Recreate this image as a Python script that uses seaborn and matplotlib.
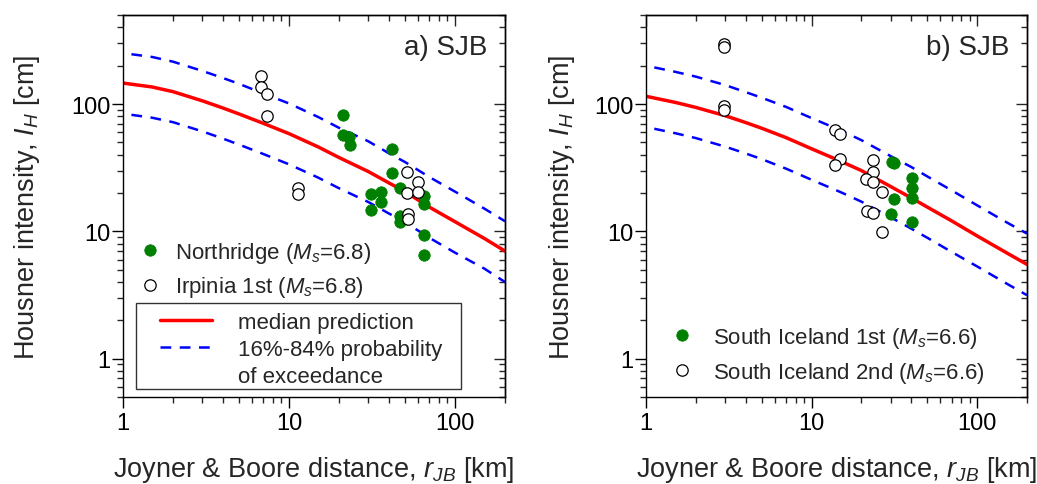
import numpy as np
import matplotlib
matplotlib.use('Agg')
import matplotlib.pyplot as plt
import seaborn as sns
from matplotlib.lines import Line2D
from matplotlib.patches import Rectangle
from matplotlib.ticker import LogLocator, NullFormatter, FuncFormatter

# ---------------- data ----------------
dist_curve = [1, 1.5, 2, 3, 4, 5, 7, 10, 15, 20, 30, 40, 50, 70, 100, 150, 200]

a_median = [146, 136, 125, 106, 93, 83.5, 70.5, 58.5, 46, 38, 29.5, 24, 20.5, 15.5, 11.9, 8.8, 7.0]
a_upper = [251, 234, 215, 182, 160, 144, 121, 101, 79, 65, 51, 41, 35, 26.7, 20.5, 15.1, 12.0]
a_lower = [84, 78, 72, 61, 53.5, 48, 40.5, 33.6, 26.4, 21.8, 17.0, 13.8, 11.8, 8.9, 6.8, 5.1, 4.0]

b_median = [115, 103, 94, 81, 71.5, 64.5, 54.5, 44.5, 35.5, 30, 22.5, 18.3, 15.5, 12.1, 9.2, 6.8, 5.5]
b_upper = [200, 179, 164, 141, 124, 112, 95, 77.5, 62, 52, 39, 32, 27, 21, 16, 11.8, 9.6]
b_lower = [66, 59, 54, 46.3, 40.9, 36.9, 31.1, 25.4, 20.3, 17.1, 12.9, 10.5, 8.9, 6.9, 5.3, 3.9, 3.15]

northridge_r = [21.1, 21, 23, 23.3, 41.5, 41.5, 46.6, 31, 35.8, 35.8, 31, 46.6, 46.6, 65, 65, 65, 65]
northridge_ih = [82, 57, 55, 48, 44, 28.5, 22, 19.5, 20.4, 17, 14.7, 13.2, 11.8, 18.8, 16.3, 9.3, 6.5]

irpinia_r = [6.8, 6.8, 7.4, 7.4, 11.3, 11.3, 51.6, 59.5, 51.6, 59.5, 52.4, 52.4]
irpinia_ih = [165, 137, 120, 81, 21.8, 19.8, 29.5, 24.4, 20, 20.2, 13.6, 12.4]

sil1_r = [30.5, 31.5, 40.4, 40.4, 40.4, 31.6, 30.2, 40.4]
sil1_ih = [35, 34.3, 26, 22, 18.2, 18, 13.6, 11.9]

sil2_r = [2.95, 2.95, 2.95, 2.95, 13.8, 14.9, 14.9, 13.8, 23.6, 23.6, 21.3, 23.6, 26.5, 21.5, 23.6, 26.5]
sil2_ih = [297, 279, 96, 90, 62.4, 58, 37.3, 33.2, 36, 29.5, 25.7, 24.6, 20.4, 14.5, 14, 9.8]

panel_titles = ['a) SJB', 'b) SJB']
x_label = r'Joyner & Boore distance, $r_{JB}$ [km]'
y_label = r'Housner intensity, $I_H$ [cm]'
label_a1 = r'Northridge ($M_s$=6.8)'
label_a2 = r'Irpinia 1st ($M_s$=6.8)'
label_b1 = r'South Iceland 1st ($M_s$=6.6)'
label_b2 = r'South Iceland 2nd ($M_s$=6.6)'
line_labels = ['median prediction', '16%-84% probability', 'of exceedance']

# ---------------- style ----------------
sns.set_style('ticks')
plt.rcParams['font.family'] = ['Liberation Sans', 'DejaVu Sans']
plt.rcParams['mathtext.fontset'] = 'custom'
plt.rcParams['mathtext.rm'] = 'Liberation Sans'
plt.rcParams['mathtext.it'] = 'Liberation Sans:italic'
plt.rcParams['mathtext.bf'] = 'Liberation Sans:bold'
plt.rcParams['axes.edgecolor'] = 'black'

GREEN = '#008000'
RED = '#ff0000'
BLUE = '#0000ff'
DASH = (4.3, 3.4)
MS = 8.2

fig = plt.figure(figsize=(10.37, 4.85), dpi=100)
axA = fig.add_axes([123 / 1037, 1 - 398 / 485, 382 / 1037, 382 / 485])
axB = fig.add_axes([646 / 1037, 1 - 398 / 485, 381 / 1037, 382 / 485])

fmt = FuncFormatter(lambda v, p: f'{v:g}')


def set_log_ticks(axis):
    axis.set_major_locator(LogLocator(base=10, numticks=12))
    axis.set_minor_locator(LogLocator(base=10, subs=np.arange(2, 10), numticks=40))
    axis.set_minor_formatter(NullFormatter())


def style(ax, ylab_x):
    ax.set_xscale('log')
    ax.set_yscale('log')
    ax.set_xlim(1, 200)
    ax.set_ylim(0.5, 500)
    for axis in (ax.xaxis, ax.yaxis):
        set_log_ticks(axis)
        axis.set_major_formatter(fmt)
    ax.tick_params(which='major', direction='out', length=7.7, width=1.0,
                   labelsize=17, colors='black')
    ax.tick_params(which='minor', direction='out', length=4.3, width=1.0)
    ax.tick_params(axis='x', which='major', pad=3)
    ax.tick_params(axis='y', which='major', pad=1.5)
    for sp in ax.spines.values():
        sp.set_visible(True)
        sp.set_linewidth(1.0)
        sp.set_color('black')
    secx = ax.secondary_xaxis('top')
    set_log_ticks(secx.xaxis)
    secx.xaxis.set_major_formatter(NullFormatter())
    secx.tick_params(which='major', direction='in', length=7.7, width=1.0,
                     labeltop=False)
    secx.tick_params(which='minor', direction='in', length=4.3, width=1.0)
    secx.spines['top'].set_linewidth(1.0)
    secy = ax.secondary_yaxis('right')
    set_log_ticks(secy.yaxis)
    secy.yaxis.set_major_formatter(NullFormatter())
    secy.tick_params(which='major', direction='in', length=7.7, width=1.0,
                     labelright=False)
    secy.tick_params(which='minor', direction='in', length=4.3, width=1.0)
    secy.spines['right'].set_linewidth(1.0)
    ax.set_xlabel(x_label, fontsize=19.5, va='top')
    ax.set_ylabel(y_label, fontsize=19.5)
    ax.xaxis.set_label_coords(0.5, -0.148)
    ax.yaxis.set_label_coords(ylab_x, 0.5)


def curves(ax, med, up, lo):
    sns.lineplot(x=dist_curve, y=med, ax=ax, color=RED, linewidth=2.5,
                 estimator=None, sort=False, legend=False, zorder=2)
    for arr in (up, lo):
        sns.lineplot(x=dist_curve, y=arr, ax=ax, color=BLUE, linewidth=1.8,
                     linestyle=(DASH[0], DASH), estimator=None, sort=False,
                     legend=False, zorder=2)


def points(ax, r, ih, filled):
    if filled:
        sns.scatterplot(x=r, y=ih, ax=ax, s=MS ** 2, color=GREEN, edgecolor=GREEN,
                        linewidth=0.6, legend=False, zorder=3)
    else:
        sns.scatterplot(x=r, y=ih, ax=ax, s=MS ** 2, color='white', edgecolor='black',
                        linewidth=0.9, legend=False, zorder=3)


# ---------------- panel a ----------------
curves(axA, a_median, a_upper, a_lower)
points(axA, northridge_r, northridge_ih, True)
points(axA, irpinia_r, irpinia_ih, False)
style(axA, -0.212)
axA.text(0.953, 0.916, panel_titles[0], transform=axA.transAxes,
         ha='right', va='center', fontsize=20)

h_green = Line2D([], [], marker='o', ls='none', markersize=MS,
                 mfc=GREEN, mec=GREEN, mew=0.6)
h_open = Line2D([], [], marker='o', ls='none', markersize=MS,
                mfc='white', mec='black', mew=0.9)
legA1 = axA.legend([h_green, h_open], [label_a1, label_a2], loc='center left',
                   bbox_to_anchor=(0.042, 0.333), frameon=False, fontsize=16,
                   handlelength=1.0, handletextpad=0.63, borderpad=0,
                   borderaxespad=0, labelspacing=0.42)
axA.add_artist(legA1)

box = Rectangle((0.034, 0.021), 0.851, 0.225, transform=axA.transAxes,
                facecolor='white', edgecolor='#333333', linewidth=1.0, zorder=4)
axA.add_patch(box)
h_red = Line2D([], [], color=RED, linewidth=2.5)
h_blue = Line2D([], [], color=BLUE, linewidth=1.8, linestyle=(0, DASH))
h_none = Line2D([], [], color='none')
legA2 = axA.legend([h_red, h_blue, h_none], line_labels, loc='center left',
                   bbox_to_anchor=(0.097, 0.124), frameon=False, fontsize=16,
                   handlelength=2.34, handletextpad=1.17, borderpad=0,
                   borderaxespad=0, labelspacing=0.27)
legA2.set_zorder(5)

# ---------------- panel b ----------------
curves(axB, b_median, b_upper, b_lower)
points(axB, sil2_r, sil2_ih, False)
points(axB, sil1_r, sil1_ih, True)
style(axB, -0.182)
axB.text(0.955, 0.916, panel_titles[1], transform=axB.transAxes,
         ha='right', va='center', fontsize=20)
axB.legend([h_green, h_open], [label_b1, label_b2], loc='center left',
           bbox_to_anchor=(0.066, 0.110), frameon=False, fontsize=16,
           handlelength=1.0, handletextpad=0.9, borderpad=0,
           borderaxespad=0, labelspacing=0.45)

fig.savefig('out.png', dpi=100)
